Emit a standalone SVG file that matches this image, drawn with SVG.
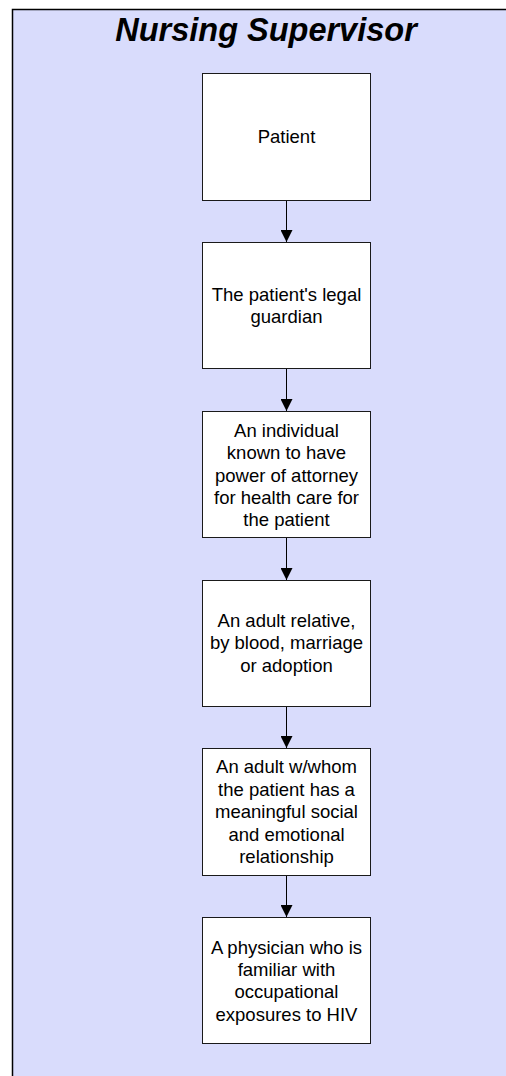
<svg xmlns="http://www.w3.org/2000/svg" width="506" height="1076" viewBox="0 0 506 1076">
<defs>
<style>
.box{fill:#ffffff;stroke:#1a1a1a;stroke-width:1}
.t{font-family:"Liberation Sans",Arial,sans-serif;font-size:18.5px;fill:#000;text-anchor:middle}
.title{font-family:"Liberation Sans",Arial,sans-serif;font-size:32.5px;font-weight:bold;font-style:italic;fill:#000;text-anchor:middle}
.c{stroke:#000;stroke-width:1;fill:none;marker-end:url(#ah)}
</style>
<marker id="ah" markerUnits="userSpaceOnUse" markerWidth="13" markerHeight="12" refX="12" refY="6" orient="auto">
<path d="M0,0 L12,6 L0,12 Z" fill="#000"/>
</marker>
</defs>
<g id="panel">
<rect x="12.5" y="9.5" width="500" height="1080" fill="#d9dcfc" stroke="#000" stroke-width="1.5"/>
<text class="title" x="266" y="41">Nursing Supervisor</text>
</g>
<g id="connectors">
<line class="c" x1="286.5" y1="200" x2="286.5" y2="242"/>
<line class="c" x1="286.5" y1="368" x2="286.5" y2="411"/>
<line class="c" x1="286.5" y1="537" x2="286.5" y2="580"/>
<line class="c" x1="286.5" y1="706" x2="286.5" y2="748"/>
<line class="c" x1="286.5" y1="875" x2="286.5" y2="917"/>
</g>
<g id="n1">
<rect class="box" x="202.5" y="73.5" width="168" height="127"/>
<text class="t" x="286.5" y="143">Patient</text>
</g>
<g id="n2">
<rect class="box" x="202.5" y="242.5" width="168" height="126"/>
<text class="t" x="286.5" y="301">The patient's legal</text>
<text class="t" x="286.5" y="323">guardian</text>
</g>
<g id="n3">
<rect class="box" x="202.5" y="411.5" width="168" height="126"/>
<text class="t" x="286.5" y="437">An individual</text>
<text class="t" x="286.5" y="459">known to have</text>
<text class="t" x="286.5" y="482">power of attorney</text>
<text class="t" x="286.5" y="504">for health care for</text>
<text class="t" x="286.5" y="526">the patient</text>
</g>
<g id="n4">
<rect class="box" x="202.5" y="580.5" width="168" height="126"/>
<text class="t" x="286.5" y="627">An adult relative,</text>
<text class="t" x="286.5" y="649">by blood, marriage</text>
<text class="t" x="286.5" y="672">or adoption</text>
</g>
<g id="n5">
<rect class="box" x="202.5" y="748.5" width="168" height="127"/>
<text class="t" x="286.5" y="773">An adult w/whom</text>
<text class="t" x="286.5" y="796">the patient has a</text>
<text class="t" x="286.5" y="818">meaningful social</text>
<text class="t" x="286.5" y="841">and emotional</text>
<text class="t" x="286.5" y="863">relationship</text>
</g>
<g id="n6">
<rect class="box" x="202.5" y="917.5" width="168" height="126"/>
<text class="t" x="286.5" y="954">A physician who is</text>
<text class="t" x="286.5" y="976">familiar with</text>
<text class="t" x="286.5" y="998">occupational</text>
<text class="t" x="286.5" y="1021">exposures to HIV</text>
</g>
</svg>
